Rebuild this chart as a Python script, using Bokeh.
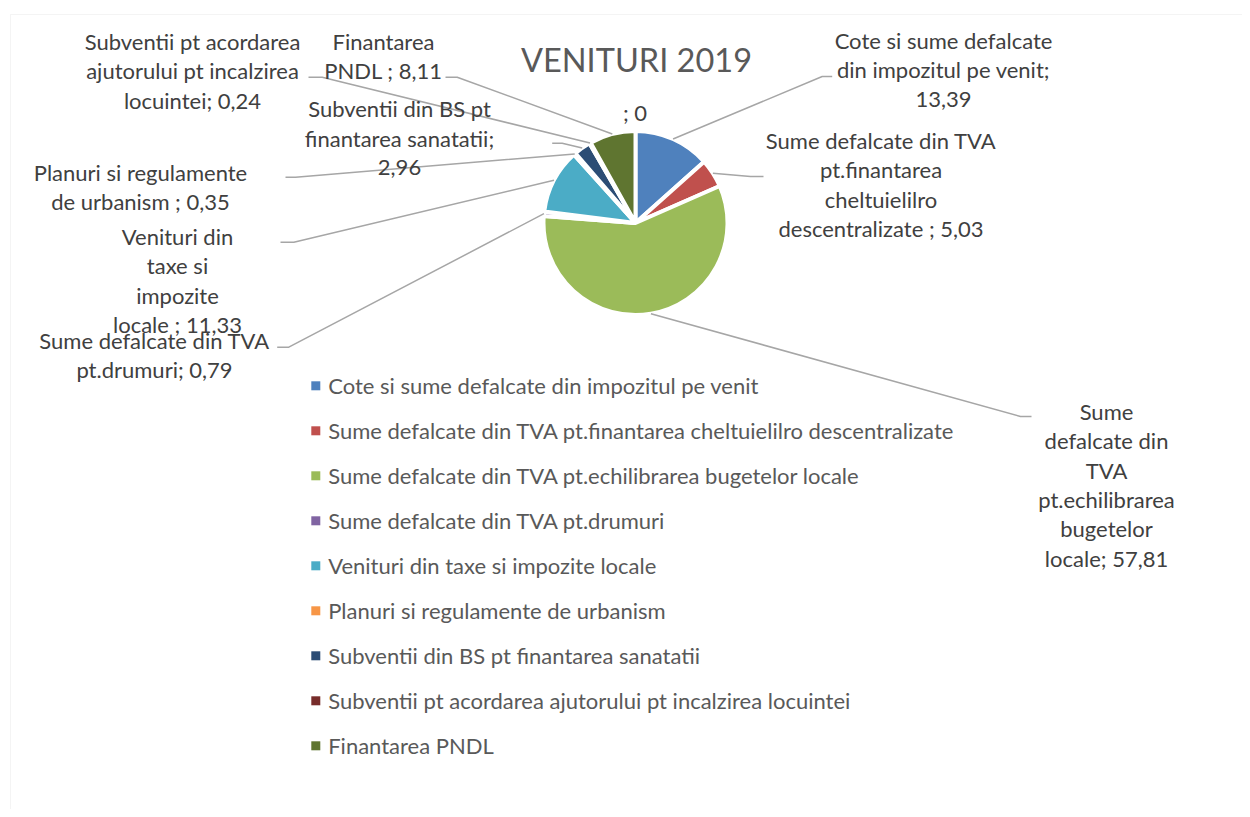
import numpy as np
from bokeh.plotting import figure
from bokeh.models import ColumnDataSource, Range1d, BoxAnnotation
from bokeh.core.properties import value
from bokeh.embed import file_html
from bokeh.resources import INLINE

# ---------------- data ----------------
title_text = "VENITURI 2019"
categories = [
    "Cote si sume defalcate din impozitul pe venit",
    "Sume defalcate din TVA pt.finantarea cheltuielilro descentralizate ",
    "Sume defalcate din TVA pt.echilibrarea bugetelor locale",
    "Sume defalcate din TVA pt.drumuri",
    "Venituri din taxe si impozite locale ",
    "Planuri si regulamente de urbanism ",
    "Subventii din BS pt finantarea sanatatii",
    "Subventii pt acordarea ajutorului pt incalzirea locuintei",
    "Finantarea PNDL ",
    "",
]
values = [13.39, 5.03, 57.81, 0.79, 11.33, 0.35, 2.96, 0.24, 8.11, 0]
colors = ["#4f81bd", "#c0504d", "#9bbb59", "#8064a2", "#4bacc6",
          "#f79646", "#2c4d75", "#772c2a", "#5f7530", "#4f81bd"]

# ---------------- layout (page pixel coordinates) ----------------
W, H = 1242, 809
FONT = "Lato"
CX, CY, R = 635, 222.5, 92          # pie centre / radius (page px)
LINE_H = 29.4
# words per line of each data label
label_words = [[4, 4, 1], [4, 1, 1, 3], [1, 2, 1, 1, 1, 2], [4, 2], [2, 2, 1, 3],
               [3, 4], [4, 2, 1], [3, 3, 2], [1, 3], [2]]
label_cx = [943, 880.5, 1106, 154, 177, 140, 399, 192, 383, 634.5]
label_cy = [40, 140, 410.7, 340, 236, 171.7, 108.3, 40.7, 40.7, 111.7]
leader_pts = [
    [(821.7, 76), (831.7, 76)],
    [(750, 176), (763, 176)],
    [(1020, 416), (1031, 416)],
    [(288.3, 346.7), (276.7, 346.7)],
    [(293.3, 241.7), (280, 241.7)],
    [(295, 176.7), (285, 176.7)],
    [(561.7, 142.7), (551.7, 142.7)],
    [(321.7, 76.7), (308, 76.7)],
    [(456.7, 76.7), (445, 76.7)],
    None,
]
LEG_X, LEG_TX, LEG_Y0, LEG_DY = 315.3, 327.7, 385.3, 45


def Y(py):
    return 817 - py


p = figure(width=W, height=H, output_backend="svg", toolbar_location=None,
           x_range=Range1d(0, W), y_range=Range1d(817 - H, 817),
           min_border=0, background_fill_color="white", border_fill_color="white")
p.axis.visible = False
p.grid.visible = False
p.outline_line_color = None

# chart-area border
p.add_layout(BoxAnnotation(left=10, right=1400, top=Y(14), bottom=-200,
                           fill_alpha=0, line_color="#d9d9d9", line_width=1))

# ---------------- pie ----------------
vals = np.array(values, dtype=float)
total = vals.sum()
cum = np.concatenate([[0], np.cumsum(vals)]) / total
start = np.pi / 2 - 2 * np.pi * cum[:-1]
end = np.pi / 2 - 2 * np.pi * cum[1:]
mid = (cum[:-1] + cum[1:]) / 2 * 2 * np.pi   # clockwise from top

mask = vals > 0
src = ColumnDataSource(dict(start=start[mask], end=end[mask],
                            color=[c for c, m in zip(colors, mask) if m]))
p.wedge(x=CX, y=Y(CY), radius=R, start_angle="start", end_angle="end",
        direction="clock", fill_color="color", line_color="white",
        line_width=4, source=src)

# ---------------- leader lines ----------------
xs, ys = [], []
for i, pts in enumerate(leader_pts):
    if pts is None:
        continue
    ax = CX + R * np.sin(mid[i])
    ay = CY - R * np.cos(mid[i])
    px = [ax] + [q[0] for q in pts]
    py = [Y(ay)] + [Y(q[1]) for q in pts]
    xs.append(px)
    ys.append(py)
p.multi_line(xs=xs, ys=ys, line_color="#a6a6a6", line_width=1.5)

# ---------------- data labels ----------------
def fmt(v):
    return f"{v:g}".replace(".", ",")

tx, ty, tt = [], [], []
for i, (name, v) in enumerate(zip(categories, values)):
    words = (name + "; " + fmt(v)).split()
    k = 0
    for j, n in enumerate(label_words[i]):
        tt.append(" ".join(words[k:k + n]))
        k += n
        tx.append(label_cx[i])
        ty.append(Y(label_cy[i] + j * LINE_H))
p.text(x=tx, y=ty, text=tt, text_align="center", text_baseline="middle",
       text_font=value(FONT), text_font_size="22px", text_color="#404040")

# ---------------- title ----------------
p.text(x=[636], y=[Y(59)], text=[title_text], text_align="center",
       text_baseline="middle", text_font=value(FONT),
       text_font_size="32.5px", text_color="#595959")

# ---------------- legend ----------------
leg = [(n.strip(), c) for n, c in zip(categories, colors) if n.strip()]
ly = [Y(LEG_Y0 + k * LEG_DY) for k in range(len(leg))]
p.scatter(x=[LEG_X] * len(leg), y=ly, marker="square", size=9,
          fill_color=[c for _, c in leg], line_color=None)
p.text(x=[LEG_TX] * len(leg), y=ly, text=[n for n, _ in leg],
       text_align="left", text_baseline="middle", text_font=value(FONT),
       text_font_size="22px", text_color="#595959")

open("out.html", "w").write(file_html(p, INLINE))
